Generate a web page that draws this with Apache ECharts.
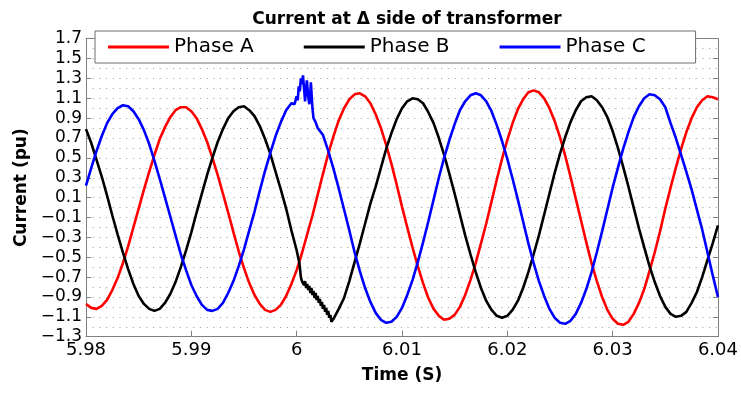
<!DOCTYPE html>
<html><head><meta charset="utf-8">
<script src="https://cdn.jsdelivr.net/npm/echarts@6/dist/echarts.min.js"></script>
<style>html,body{margin:0;padding:0;background:#fff}#c{width:741px;height:394px}</style>
</head><body><div id="c"></div>
<script>
// ---- data ----
const seriesNames = ['Phase A', 'Phase B', 'Phase C'];
const time = [
 5.9800,5.9805,5.9810,5.9815,5.9820,5.9825,5.9830,5.9835,5.9840,5.9845,
 5.9850,5.9855,5.9860,5.9865,5.9870,5.9875,5.9880,5.9885,5.9890,5.9895,
 5.9900,5.9905,5.9910,5.9915,5.9920,5.9925,5.9930,5.9935,5.9940,5.9945,
 5.9950,5.9955,5.9960,5.9965,5.9970,5.9975,5.9980,5.9985,5.9990,5.9995,
 6.0000,6.0005,6.0010,6.0015,6.0020,6.0025,6.0030,6.0035,6.0040,6.0045,
 6.0050,6.0055,6.0060,6.0065,6.0070,6.0075,6.0080,6.0085,6.0090,6.0095,
 6.0100,6.0105,6.0110,6.0115,6.0120,6.0125,6.0130,6.0135,6.0140,6.0145,
 6.0150,6.0155,6.0160,6.0165,6.0170,6.0175,6.0180,6.0185,6.0190,6.0195,
 6.0200,6.0205,6.0210,6.0215,6.0220,6.0225,6.0230,6.0235,6.0240,6.0245,
 6.0250,6.0255,6.0260,6.0265,6.0270,6.0275,6.0280,6.0285,6.0290,6.0295,
 6.0300,6.0305,6.0310,6.0315,6.0320,6.0325,6.0330,6.0335,6.0340,6.0345,
 6.0350,6.0355,6.0360,6.0365,6.0370,6.0375,6.0380,6.0385,6.0390,6.0395,
 6.0400];
const phaseA = [
 -0.97,-1.01,-1.02,-0.99,-0.93,-0.83,-0.71,-0.56,-0.39,-0.20,
 -0.01,0.18,0.36,0.53,0.69,0.81,0.91,0.98,1.01,1.01,
 0.97,0.90,0.79,0.66,0.50,0.33,0.14,-0.05,-0.25,-0.44,
 -0.61,-0.76,-0.88,-0.97,-1.03,-1.05,-1.03,-0.98,-0.89,-0.77,
 -0.63,-0.46,-0.27,-0.08,0.13,0.34,0.54,0.72,0.88,1.00,
 1.09,1.14,1.15,1.12,1.05,0.94,0.80,0.63,0.44,0.23,
 0.01,-0.20,-0.40,-0.59,-0.76,-0.91,-1.02,-1.09,-1.13,-1.12,
 -1.08,-1.00,-0.88,-0.73,-0.56,-0.36,-0.16,0.06,0.28,0.49,
 0.68,0.85,0.99,1.09,1.16,1.18,1.16,1.10,1.00,0.87,
 0.71,0.52,0.31,0.09,-0.13,-0.35,-0.56,-0.74,-0.90,-1.03,
 -1.12,-1.17,-1.18,-1.15,-1.07,-0.96,-0.82,-0.64,-0.45,-0.24,
 -0.01,0.20,0.40,0.59,0.76,0.90,1.01,1.08,1.12,1.11,
 1.09];
const phaseB = [
 0.79,0.65,0.48,0.31,0.12,-0.08,-0.27,-0.45,-0.62,-0.77,
 -0.89,-0.97,-1.02,-1.04,-1.02,-0.96,-0.87,-0.75,-0.60,-0.43,
 -0.25,-0.05,0.14,0.33,0.50,0.66,0.79,0.90,0.97,1.01,
 1.02,0.98,0.92,0.82,0.69,0.54,0.36,0.18,-0.01,-0.23,
 -0.43,-0.74,-0.80,-0.87,-0.94,-1.01,-1.09,-1.12,-1.02,-0.91,
 -0.74,-0.55,-0.36,-0.16,0.04,0.21,0.40,0.59,0.75,0.89,
 1.00,1.07,1.10,1.09,1.05,0.96,0.85,0.70,0.53,0.34,
 0.14,-0.07,-0.28,-0.47,-0.65,-0.81,-0.94,-1.03,-1.09,-1.11,
 -1.09,-1.03,-0.94,-0.81,-0.65,-0.47,-0.28,-0.07,0.14,0.35,
 0.54,0.71,0.86,0.98,1.07,1.11,1.12,1.08,1.01,0.91,
 0.77,0.60,0.41,0.21,0.00,-0.21,-0.40,-0.59,-0.75,-0.89,
 -1.00,-1.07,-1.10,-1.09,-1.05,-0.96,-0.85,-0.70,-0.53,-0.36,
 -0.18];
const phaseC = [
 0.22,0.40,0.57,0.72,0.85,0.94,1.00,1.03,1.02,0.97,
 0.89,0.78,0.64,0.47,0.29,0.10,-0.09,-0.28,-0.47,-0.63,
 -0.78,-0.89,-0.98,-1.03,-1.04,-1.02,-0.96,-0.86,-0.74,-0.59,
 -0.42,-0.23,-0.04,0.17,0.37,0.55,0.72,0.86,0.98,1.05,
 1.12,1.15,1.12,0.95,0.80,0.73,0.57,0.39,0.19,-0.02,
 -0.23,-0.45,-0.64,-0.81,-0.95,-1.06,-1.13,-1.16,-1.15,-1.10,
 -1.01,-0.88,-0.73,-0.55,-0.35,-0.14,0.08,0.30,0.50,0.68,
 0.84,0.98,1.07,1.13,1.15,1.13,1.07,0.97,0.83,0.67,
 0.49,0.29,0.08,-0.14,-0.36,-0.56,-0.74,-0.89,-1.02,-1.11,
 -1.16,-1.17,-1.14,-1.07,-0.96,-0.82,-0.65,-0.45,-0.24,-0.02,
 0.20,0.40,0.59,0.76,0.91,1.02,1.10,1.14,1.13,1.09,
 1.01,0.85,0.70,0.53,0.36,0.18,-0.02,-0.22,-0.45,-0.68,
 -0.90];
// disturbance detail around t = 6.000 s
const burstTimeB = [6.0000,6.00026,6.0004,6.0005,6.0006,6.0007,6.0008,6.0009,6.0010,6.0011,6.0012,6.0013,6.0014,6.0015,6.0016,6.0017,6.0018,6.0019,6.0020,6.0021,6.0022,6.0023,6.0024,6.0025,6.0026,6.0027,6.0028,6.0029,6.0030,6.0031,6.0032,6.0033];
const burstB = [-0.43,-0.56,-0.70,-0.74,-0.72,-0.78,-0.74,-0.81,-0.77,-0.83,-0.79,-0.86,-0.81,-0.88,-0.84,-0.91,-0.86,-0.93,-0.89,-0.96,-0.92,-0.99,-0.95,-1.02,-0.98,-1.05,-1.01,-1.08,-1.04,-1.11,-1.08,-1.15];
const burstTimeC = [5.9998,6.0000,6.0001,6.0002,6.0003,6.0004,6.0005,6.0006,6.0007,6.0008,6.0009,6.00097,6.0011,6.0012,6.0013,6.00135,6.0015,6.0016,6.0018,6.0020];
const burstC = [1.04,1.12,1.08,1.22,1.17,1.30,1.24,1.33,1.20,1.07,1.20,1.28,1.12,1.04,1.16,1.26,1.00,0.90,0.86,0.80];
const xTicks = [5.98, 5.99, 6.00, 6.01, 6.02, 6.03, 6.04];
const yTicks = [-1.3,-1.1,-0.9,-0.7,-0.5,-0.3,-0.1,0.1,0.3,0.5,0.7,0.9,1.1,1.3,1.5,1.7];
const colors = ['#ff0000', '#000000', '#0000ff'];

// ---- build ----
function pairs(t, v) { return t.map((x, i) => [x, v[i]]); }
function merge(t, v, bt, bv) {
  const lo = bt[0] - 1e-9, hi = bt[bt.length - 1] + 1e-9;
  const out = [];
  t.forEach((x, i) => { if (x < lo || x > hi) out.push([x, v[i]]); });
  bt.forEach((x, i) => out.push([x, bv[i]]));
  out.sort((a, b) => a[0] - b[0]);
  return out;
}
const FONT = 'DejaVu Sans';
const frame = '#808080';
const dataSets = [pairs(time, phaseA), merge(time, phaseB, burstTimeB, burstB), merge(time, phaseC, burstTimeC, burstC)];
const fmtX = v => { const t = xTicks.find(k => Math.abs(k - v) < 1e-6); return t === undefined ? '' : String(parseFloat(t.toFixed(2))); };
const fmtY = v => { const t = yTicks.find(k => Math.abs(k - v) < 1e-6); return t === undefined ? '' : t.toFixed(1).replace('-', '\u2212'); };
const dotted = { color: '#9a9a9a', width: 1, type: [1, 5.7] };

const chart = echarts.init(document.getElementById('c'), null, { renderer: 'canvas' });
chart.setOption({
  animation: false,
  backgroundColor: '#fff',
  title: {
    text: 'Current at \u0394 side of transformer', left: 402, top: 6, textAlign: 'center',
    textStyle: { fontFamily: FONT, fontWeight: 'bold', fontSize: 17, color: '#000' }
  },
  legend: {
    data: seriesNames.map(n => ({ name: n, icon: 'rect' })), left: 95, top: 31, orient: 'horizontal',
    padding: [6, 50, 6, 13], itemGap: 50, itemWidth: 61, itemHeight: 3,
    backgroundColor: '#fff', borderColor: '#6e6e6e', borderWidth: 1,
    textStyle: { fontFamily: FONT, fontSize: 20, color: '#000', lineHeight: 20 }
  },
  grid: { left: 86, right: 23, top: 38.7, bottom: 57.3 },
  xAxis: [{
    type: 'value', min: 5.98, max: 6.04, interval: 0.01,
    name: 'Time (S)', nameLocation: 'middle', nameGap: 30,
    nameTextStyle: { fontFamily: FONT, fontWeight: 'bold', fontSize: 17, color: '#000' },
    axisLine: { show: true, onZero: false, lineStyle: { color: frame, width: 1 } },
    axisTick: { show: true, inside: true, length: 6, lineStyle: { color: frame } },
    axisLabel: { fontFamily: FONT, fontSize: 18, color: '#000', margin: 5, formatter: fmtX },
    splitLine: { show: false }
  }, {
    type: 'value', position: 'top', min: 5.98, max: 6.04, interval: 0.01,
    axisLine: { show: true, onZero: false, lineStyle: { color: frame, width: 1 } },
    axisTick: { show: true, inside: true, length: 6, lineStyle: { color: frame } },
    axisLabel: { show: false }, splitLine: { show: false }
  }],
  yAxis: [{
    type: 'value', min: -1.3, max: 1.7, interval: 0.2,
    name: 'Current (pu)', nameLocation: 'middle', nameGap: 55,
    nameTextStyle: { fontFamily: FONT, fontWeight: 'bold', fontSize: 17, color: '#000' },
    axisLine: { show: true, onZero: false, lineStyle: { color: frame, width: 1 } },
    axisTick: { show: true, inside: true, length: 5, lineStyle: { color: frame } },
    axisLabel: { fontFamily: FONT, fontSize: 17, color: '#000', margin: 4, formatter: fmtY },
    splitLine: { show: true, lineStyle: dotted },
    minorTick: { show: false, splitNumber: 2 },
    minorSplitLine: { show: true, lineStyle: dotted }
  }, {
    type: 'value', position: 'right', min: -1.3, max: 1.7, interval: 0.2,
    axisLine: { show: true, onZero: false, lineStyle: { color: frame, width: 1 } },
    axisTick: { show: true, inside: true, length: 5, lineStyle: { color: frame } },
    axisLabel: { show: false }, splitLine: { show: false }
  }],
  series: seriesNames.map((n, i) => ({
    name: n, type: 'line', data: dataSets[i], showSymbol: false, symbol: 'none',
    lineStyle: { color: colors[i], width: 2.6 }, itemStyle: { color: colors[i] }
  }))
});
</script></body></html>
